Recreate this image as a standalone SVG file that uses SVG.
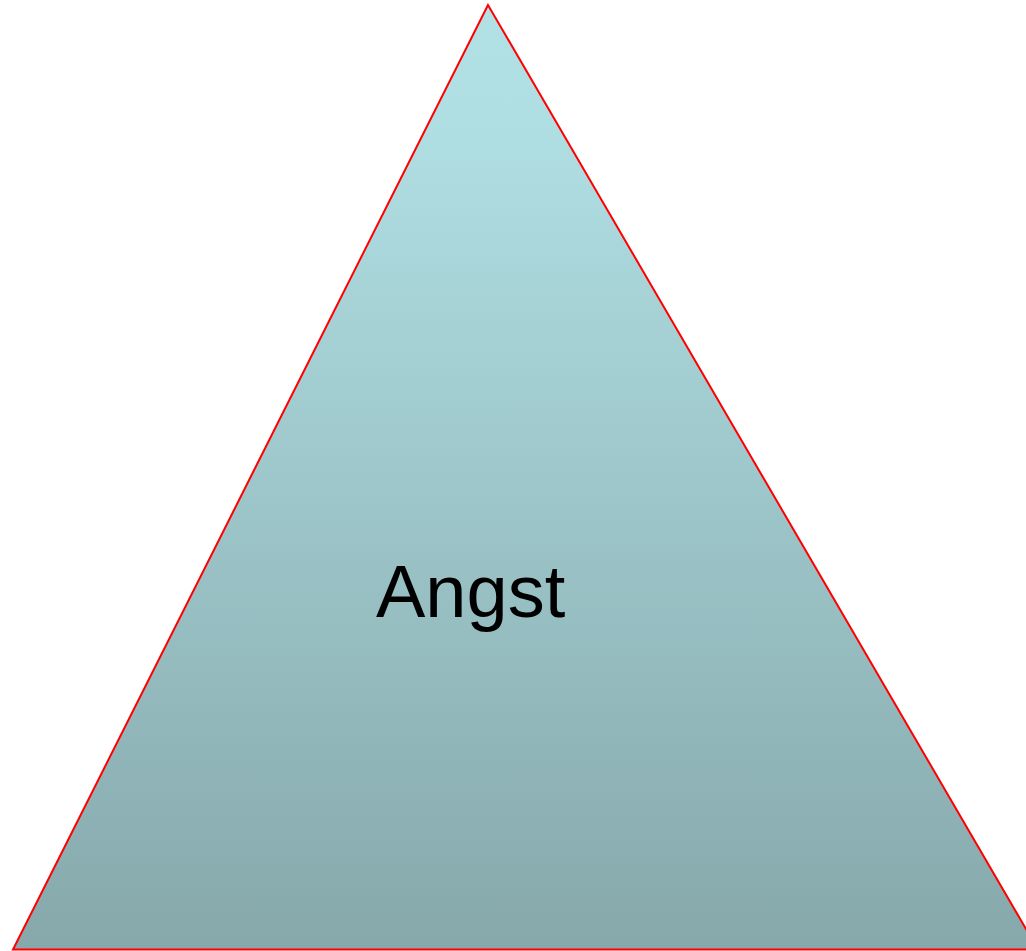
<svg xmlns="http://www.w3.org/2000/svg" width="1026" height="951" viewBox="0 0 1026 951">
<defs>
<linearGradient id="g" x1="0" y1="0" x2="0" y2="1">
<stop offset="0" stop-color="#B1E0E5"/>
<stop offset="0.12" stop-color="#B0DFE3"/>
<stop offset="1" stop-color="#86A8AB"/>
</linearGradient>
<style>.lbl{font-family:"Liberation Sans",Arial,sans-serif;font-size:74px;fill:#000}</style>
</defs>
<rect width="1026" height="951" fill="#fff"/>
<g id="triangle">
<polygon points="488,5 13,949.5 1038,949.5" fill="url(#g)" stroke="#f00" stroke-width="2"/>
<text class="lbl" x="376" y="617">Angst</text>
</g>
</svg>
